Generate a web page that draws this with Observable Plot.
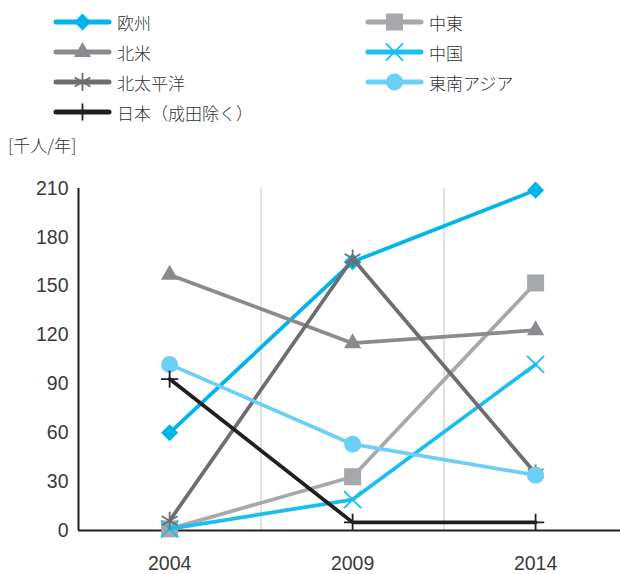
<!DOCTYPE html>
<html><head><meta charset="utf-8">
<script src="https://cdn.jsdelivr.net/npm/d3@7"></script>
<script src="https://cdn.jsdelivr.net/npm/@observablehq/plot@0.6"></script>
<style>
body{margin:0;background:#fff;}
#wrap{position:relative;width:620px;height:574px;font-family:"Noto Sans CJK JP",sans-serif;font-weight:300;color:#333;overflow:hidden;}
.item{position:absolute;height:24px;display:flex;align-items:center;font-size:17px;white-space:nowrap;}
.item svg{margin-right:5px;}
#unit{position:absolute;left:8px;top:133px;font-size:17px;line-height:24px;}
#chart{position:absolute;left:0;top:170px;}
</style></head><body>
<div id="wrap"><div id="legend"></div><div id="unit">[千人/年]</div><div id="chart"></div></div>
<script>
const years = [2004, 2009, 2014];
const seriesNames = ["欧州", "中東", "北米", "中国", "北太平洋", "東南アジア", "日本（成田除く）"];
const europe = [60, 165, 209];
const middleEast = [1, 33, 152];
const northAmerica = [157, 115, 123];
const china = [1, 19, 102];
const northPacific = [6, 167, 35];
const seAsia = [102, 53, 34];
const japan = [93, 5, 5];
const yTicks = [0, 30, 60, 90, 120, 150, 180, 210];
const xTicks = [2004, 2009, 2014];
const xDomain = [2001.51, 2016.32];
const gridX = [2006.5, 2011.5];

const seriesValues = [europe, middleEast, northAmerica, china, northPacific, seAsia, japan];
const colors = ["#00b4ec", "#a7a8ab", "#8a8b8e", "#19bff0", "#6d6e71", "#6ccff6", "#231f20"];
const symbols = ["square", "square", "triangle", "times", "asterisk", "circle", "plus"];
const rotates = [45, 0, 0, 0, 0, 0, 0];
const radii = [6.8, 9.6, 6.4, 7.8, 8.6, 8.5, 5.6];
const filled = [true, true, true, false, false, true, false];

const data = [];
seriesNames.forEach((name, i) => {
  years.forEach((yr, j) => data.push({series: name, idx: i, year: yr, value: seriesValues[i][j]}));
});

const tickFont = "'Liberation Sans', Arial, sans-serif";
const marks = [
  Plot.ruleX(gridX, {y1: 0, y2: 210, stroke: "#d9d9d9", strokeWidth: 1.5}),
  Plot.axisY({ticks: yTicks, tickSize: 0, tickPadding: 10, fontSize: 19.5, fill: "#3a3a3a", label: null, fontFamily: tickFont}),
  Plot.axisX({ticks: xTicks, tickSize: 0, tickPadding: 26, fontSize: 19.5, fill: "#3a3a3a", label: null, fontFamily: tickFont, tickFormat: d => String(d)}),
  Plot.ruleY([0], {stroke: "#231f20", strokeWidth: 2}),
  Plot.ruleX([xDomain[0]], {y1: 0, y2: 210, stroke: "#231f20", strokeWidth: 2})
];
seriesNames.forEach((name, i) => {
  const d = data.filter(r => r.idx === i);
  marks.push(Plot.line(d, {x: "year", y: "value", stroke: colors[i], strokeWidth: 3.75}));
  if (filled[i]) {
    marks.push(Plot.dot(d, {x: "year", y: "value", symbol: symbols[i], r: radii[i], fill: colors[i], rotate: rotates[i]}));
  } else {
    marks.push(Plot.dot(d, {x: "year", y: "value", symbol: symbols[i], r: radii[i], stroke: colors[i], strokeWidth: 1.8, fill: "none"}));
  }
});

const chart = Plot.plot({
  width: 620, height: 404,
  marginTop: 18, marginBottom: 44, marginLeft: 78, marginRight: 0,
  style: {fontFamily: tickFont, fontSize: "19.5px", color: "#333", background: "#fff"},
  x: {type: "linear", domain: xDomain, axis: null},
  y: {domain: [0, 210], axis: null},
  marks
});
document.getElementById("chart").appendChild(chart);

// legend
const legendOrder = [[0, 52, 10], [2, 52, 40], [4, 52, 70], [6, 52, 100], [1, 364, 10], [3, 364, 40], [5, 364, 70]];
const legend = d3.select("#legend");
const symMap = {square: d3.symbolSquare, triangle: d3.symbolTriangle, times: d3.symbolTimes, asterisk: d3.symbolAsterisk, circle: d3.symbolCircle, plus: d3.symbolPlus};
legendOrder.forEach(([i, left, top]) => {
  const item = legend.append("div").attr("class", "item").style("left", left + "px").style("top", top + "px");
  const svg = item.append("svg").attr("width", 60).attr("height", 24);
  svg.append("line").attr("x1", 4).attr("x2", 57).attr("y1", 12).attr("y2", 12)
    .attr("stroke", colors[i]).attr("stroke-width", 5).attr("stroke-linecap", "round");
  const size = Math.PI * radii[i] * radii[i];
  const p = svg.append("path").attr("d", d3.symbol(symMap[symbols[i]], size)())
    .attr("transform", `translate(30.5,12) rotate(${rotates[i]})`);
  if (filled[i]) p.attr("fill", colors[i]);
  else p.attr("fill", "none").attr("stroke", colors[i]).attr("stroke-width", 1.8);
  item.append("span").text(seriesNames[i]);
});
</script>
</body></html>
